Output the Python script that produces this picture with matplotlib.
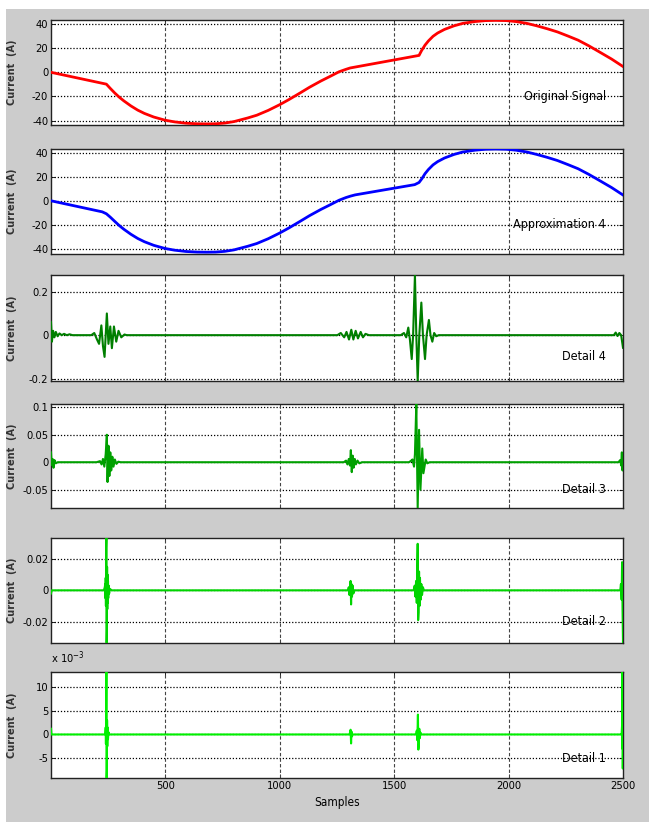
import matplotlib.pyplot as plt
from matplotlib.patches import Rectangle

# samples / values
orig_x = [1, 243, 260, 280, 300, 319, 350, 380, 409, 450, 499, 540, 590, 640, 680, 720,
          760, 800, 860, 900, 950, 1000, 1041, 1090, 1131, 1180, 1221, 1260, 1290, 1308,
          1609, 1620, 1635, 1650, 1670, 1690, 1720, 1762, 1800, 1853, 1900, 1943, 1990,
          2033, 2080, 2123, 2170, 2214, 2260, 2304, 2350, 2394, 2450, 2500]
orig_y = [0, -9.8, -13.3, -17.2, -20.7, -23.6, -27.8, -31.3, -34.0, -37.0, -39.6, -41.0,
          -42.1, -42.6, -42.7, -42.6, -42.0, -40.8, -37.8, -35.5, -31.5, -26.8, -22.5,
          -17.0, -12.3, -7.2, -3.3, 0.5, 2.5, 3.6,
          14.0, 18.0, 22.5, 26.0, 29.8, 32.5, 35.5, 38.5, 40.5, 42.0, 42.8, 43.0, 42.8,
          42.0, 40.5, 38.5, 36.0, 33.4, 30.0, 26.6, 22.0, 17.2, 11.0, 4.8]

approx_x = [1, 225, 243, 260, 280, 300, 319, 350, 380, 409, 450, 499, 540, 590, 640, 680,
            720, 760, 800, 860, 900, 950, 1000, 1041, 1090, 1131, 1180, 1221, 1260, 1290,
            1310, 1330, 1590, 1609, 1622, 1635, 1650, 1670, 1690, 1720, 1762, 1800, 1853,
            1900, 1943, 1990, 2033, 2080, 2123, 2170, 2214, 2260, 2304, 2350, 2394, 2450,
            2500]
approx_y = [0, -9.2, -10.8, -13.6, -17.2, -20.7, -23.6, -27.8, -31.3, -34.0, -37.0, -39.6,
            -41.0, -42.1, -42.6, -42.7, -42.6, -42.0, -40.8, -37.8, -35.5, -31.5, -26.8,
            -22.5, -17.0, -12.3, -7.2, -3.3, 0.5, 2.7, 3.9, 4.9, 13.4, 15.2, 18.5, 22.5,
            26.0, 29.8, 32.5, 35.5, 38.5, 40.5, 42.0, 42.8, 43.0, 42.8, 42.0, 40.5, 38.5,
            36.0, 33.4, 30.0, 26.6, 22.0, 17.2, 11.0, 4.8]

d4_x = [1, 5, 10, 16, 22, 30, 38, 48, 58, 70, 82, 95,
        177, 190, 202, 211, 221, 228, 235, 245, 252, 260, 267, 276, 286, 296, 308, 322, 332,
        1252, 1267, 1282, 1292, 1303, 1313, 1322, 1332, 1342, 1354, 1364, 1375, 1390,
        1529, 1543, 1553, 1562, 1569, 1577, 1583, 1591, 1597, 1603, 1610, 1619, 1626, 1635,
        1642, 1652, 1659, 1667, 1675, 1684, 1695,
        2460, 2468, 2476, 2484, 2492, 2500]
d4_y = [0.06, -0.03, 0.02, -0.01, 0.015, -0.005, 0.008, 0.0, 0.006, 0.0, 0.004, 0.0,
        0.0, 0.01, -0.02, -0.04, 0.045, -0.05, -0.10, 0.10, -0.04, 0.04, -0.06, 0.04, -0.03,
        0.02, -0.01, 0.003, 0.0,
        0.0, 0.01, -0.01, 0.015, -0.02, 0.025, -0.02, 0.02, -0.015, 0.015, -0.01, 0.006, 0.0,
        0.0, 0.01, -0.01, 0.035, -0.02, -0.11, 0.0, 0.277, 0.0, -0.21, 0.0, 0.15, 0.0, -0.11,
        0.0, 0.07, 0.0, -0.03, 0.01, -0.005, 0.0,
        0.0, 0.012, -0.004, 0.01, 0.0, -0.058]

d3_x = [1, 4, 8, 12, 16, 22, 30,
        200, 215, 222, 228, 234, 240, 245, 248, 252, 256, 260, 264, 269, 274, 280, 287, 295, 305,
        1280, 1290, 1296, 1302, 1307, 1311, 1315, 1319, 1323, 1328, 1333, 1340, 1348, 1360,
        1565, 1575, 1580, 1587, 1591, 1597, 1603, 1609, 1615, 1623, 1628, 1638, 1645, 1655,
        2480, 2488, 2492, 2495, 2498, 2500]
d3_y = [0.018, -0.005, 0.006, -0.01, 0.004, -0.002, 0.0,
        0.0, 0.002, -0.004, 0.006, -0.008, 0.015, 0.05, -0.036, 0.03, -0.025, 0.018, -0.015,
        0.01, -0.008, 0.005, -0.003, 0.001, 0.0,
        0.0, 0.003, -0.004, 0.006, -0.006, 0.022, -0.018, 0.012, -0.01, 0.006, -0.004, 0.003,
        -0.002, 0.0,
        0.0, 0.003, 0.005, -0.008, 0.015, 0.106, -0.083, 0.059, -0.05, 0.025, -0.02, 0.005,
        -0.002, 0.0,
        0.0, 0.004, -0.006, 0.018, -0.015, 0.008]

d2_x = [1, 4,
        232, 236, 238, 239, 240, 241, 242, 243, 244, 245, 246, 247, 248, 249, 250, 251, 253,
        255, 258, 266,
        1298, 1302, 1305, 1308, 1310, 1312, 1314, 1316, 1319, 1322, 1326,
        1585, 1590, 1593, 1596, 1599, 1601, 1603, 1605, 1607, 1609, 1611, 1613, 1616, 1619,
        1622, 1626, 1630,
        2488, 2491, 2494, 2496, 2498, 2500]
d2_y = [-0.002, 0.0,
        0.0, 0.002, 0.004, -0.005, 0.008, -0.01, 0.027, 0.0334, -0.0336, -0.025, 0.015,
        -0.012, 0.01, -0.008, 0.006, -0.005, 0.003, -0.002, 0.001, 0.0,
        0.0, 0.002, -0.003, 0.004, 0.006, -0.009, 0.004, -0.004, 0.003, -0.002, 0.0,
        0.0, 0.003, -0.004, 0.006, -0.008, 0.014, 0.0297, -0.019, -0.014, 0.012, -0.01,
        0.008, -0.006, 0.004, -0.003, 0.002, 0.0,
        0.0, 0.004, -0.006, 0.018, -0.012, -0.0336]

# detail 1 in units of 1e-3
d1_x = [1, 3,
        236, 238, 240, 241, 242, 243, 244, 245, 246, 247, 248, 250, 252, 255,
        1305, 1308, 1310, 1312, 1314, 1316, 1319,
        1596, 1599, 1601, 1603, 1604, 1606, 1608, 1610, 1612, 1615, 1619,
        2492, 2494, 2496, 2497, 2498, 2499, 2500]
d1_y = [1.2, 0.0,
        0.0, 0.0, 1.5, -2.0, 3.5, 13.2, -9.2, -7.5, 3.0, -2.5, 1.5, -1.0, 0.5, 0.0,
        0.0, 0.5, 1.0, -1.9, 0.6, -0.4, 0.0,
        0.0, 0.8, -1.2, 2.0, 4.2, -3.2, -2.0, 1.2, -0.8, 0.4, 0.0,
        0.0, 0.0, 2.0, -3.0, 13.2, -7.2, 2.0]

names = ['Original Signal', 'Approximation 4', 'Detail 4', 'Detail 3', 'Detail 2', 'Detail 1']
yticks = [[-40, -20, 0, 20, 40], [-40, -20, 0, 20, 40], [-0.2, 0, 0.2],
          [-0.05, 0, 0.05, 0.1], [-0.02, 0, 0.02], [-5, 0, 5, 10]]
ytick_labels = [['-40', '-20', '0', '20', '40'], ['-40', '-20', '0', '20', '40'],
                ['-0.2', '0', '0.2'], ['-0.05', '0', '0.05', '0.1'],
                ['-0.02', '0', '0.02'], ['-5', '0', '5', '10']]
xticks = [500, 1000, 1500, 2000, 2500]

W, H = 649, 822
plt.rcParams['font.family'] = ['DejaVu Sans']
plt.rcParams['font.stretch'] = 'condensed'

fig = plt.figure(figsize=(W / 100, H / 100), dpi=100, facecolor='white')
fig.patches.append(Rectangle((6 / W, 0), 1, 1 - 9 / H, transform=fig.transFigure,
                             facecolor='#cccccc', edgecolor='none', zorder=-10))

# (top, bottom) pixel rows of each panel
rows = [(20, 125), (149, 254), (275, 381), (404, 508), (538, 643), (672, 778)]
ylims = [(-43.6, 43.3), (-44.2, 43.0), (-0.211, 0.277), (-0.0833, 0.106),
         (-0.0336, 0.0334), (-9.2, 13.2)]
label_y = [-20, -20, -0.1, -0.05, -0.02, -5]
colors = ['#ff0000', '#0000ff', '#007f00', '#00a000', '#00d400', '#00f000']
series = [(orig_x, orig_y), (approx_x, approx_y), (d4_x, d4_y), (d3_x, d3_y),
          (d2_x, d2_y), (d1_x, d1_y)]


def draw_panel(i):
    top, bot = rows[i]
    ax = fig.add_axes([51 / W, 1 - bot / H, 572 / W, (bot - top) / H])
    x, y = series[i]
    ax.plot(x, y, color=colors[i], lw=2 if i < 2 else 1.5, zorder=3)
    ax.set_xlim(1, 2500)
    ax.set_ylim(*ylims[i])
    ax.set_xticks(xticks)
    ax.set_yticks(yticks[i])
    ax.set_yticklabels(ytick_labels[i])
    for t in yticks[i]:
        ax.axhline(t, color='black', ls=(0, (1, 1.5)), lw=0.9, zorder=2)
    for t in xticks[:-1]:
        ax.axvline(t, color='#444444', ls=(0, (3, 2)), lw=0.8, zorder=2)
    ax.tick_params(direction='in', length=3, labelsize=8, top=True, right=True,
                   width=0.6, pad=2)
    if i < 5:
        ax.set_xticklabels([])
    else:
        ax.set_xlabel('Samples', fontsize=8.5, labelpad=4)
        ax.text(0, 1.06, r'x 10$^{-3}$', transform=ax.transAxes, fontsize=8,
                ha='left', va='bottom')
    for s in ax.spines.values():
        s.set_linewidth(1.0)
        s.set_color('#222222')
    ax.set_ylabel('Current  (A)', fontsize=7, fontweight='bold', color='#333333',
                  fontstretch='normal')
    ax.yaxis.set_label_coords(-0.06, 0.5)
    ax.text(0.97, label_y[i], names[i], transform=ax.get_yaxis_transform(),
            ha='right', va='center', fontsize=9, zorder=4)
    return ax


for i in range(6):
    draw_panel(i)

fig.savefig('out.png', dpi=100, facecolor='white')
